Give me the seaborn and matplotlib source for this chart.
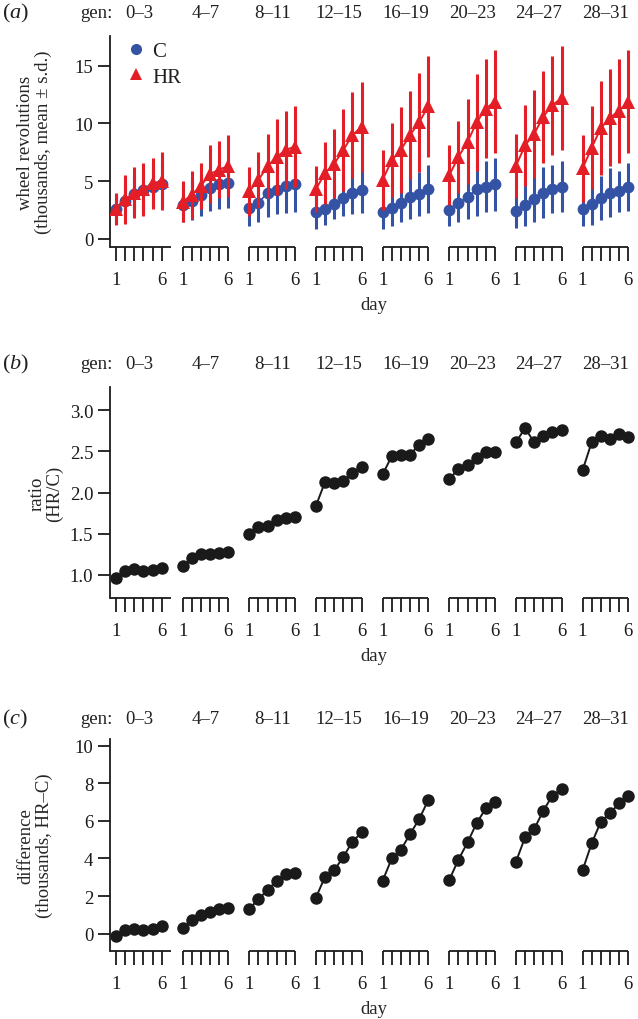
import numpy as np
import pandas as pd
import seaborn as sns
import matplotlib.pyplot as plt
from matplotlib.lines import Line2D
from matplotlib.transforms import blended_transform_factory

# generation blocks and days
gen_labels = ["0–3", "4–7", "8–11", "12–15", "16–19", "20–23", "24–27", "28–31"]
days = [1, 2, 3, 4, 5, 6]

# (a) wheel revolutions, thousands (mean and s.d.)
c_mean = [
    [2.6, 3.3, 3.9, 4.2, 4.5, 4.7],
    [2.9, 3.3, 3.8, 4.4, 4.7, 4.8],
    [2.7, 3.1, 4.0, 4.2, 4.6, 4.7],
    [2.3, 2.6, 3.0, 3.5, 4.0, 4.2],
    [2.3, 2.7, 3.1, 3.6, 3.9, 4.3],
    [2.5, 3.1, 3.6, 4.3, 4.5, 4.7],
    [2.4, 2.9, 3.4, 4.0, 4.3, 4.5],
    [2.6, 3.0, 3.5, 4.0, 4.1, 4.5],
]
c_sd = [
    [1.3, 1.4, 1.5, 1.7, 1.8, 1.9],
    [1.5, 1.7, 1.8, 2.0, 2.1, 2.1],
    [1.6, 1.7, 2.1, 2.1, 2.4, 2.4],
    [1.5, 1.4, 1.3, 1.5, 1.9, 2.0],
    [1.5, 1.6, 1.7, 1.9, 1.9, 2.1],
    [1.4, 1.7, 1.9, 2.3, 2.2, 2.3],
    [1.5, 1.8, 2.0, 2.2, 2.1, 2.2],
    [1.5, 1.8, 1.9, 2.1, 1.8, 2.1],
]
hr_mean = [
    [2.6, 3.4, 4.0, 4.3, 4.8, 5.0],
    [3.2, 3.8, 4.6, 5.6, 6.0, 6.3],
    [4.1, 5.1, 6.3, 7.1, 7.7, 8.0],
    [4.3, 5.7, 6.5, 7.7, 9.0, 9.7],
    [5.1, 6.8, 7.7, 9.0, 10.1, 11.5],
    [5.5, 7.1, 8.4, 10.1, 11.3, 11.9],
    [6.3, 8.1, 9.1, 10.6, 11.6, 12.2],
    [6.1, 7.9, 9.6, 10.5, 11.1, 11.9],
]
hr_sd = [
    [1.4, 2.1, 2.2, 2.3, 2.2, 2.5],
    [1.8, 2.1, 2.0, 2.5, 2.5, 2.7],
    [2.1, 2.4, 2.8, 3.3, 3.4, 3.5],
    [2.0, 2.7, 3.0, 3.6, 3.7, 3.9],
    [2.6, 3.2, 3.7, 3.8, 4.3, 4.4],
    [2.6, 3.1, 3.7, 4.2, 4.3, 4.5],
    [2.8, 3.5, 3.8, 4.0, 4.3, 4.5],
    [2.9, 3.6, 4.1, 4.2, 4.5, 4.5],
]

# (b) ratio HR/C
ratio = [
    [0.96, 1.05, 1.07, 1.05, 1.06, 1.09],
    [1.11, 1.21, 1.25, 1.25, 1.26, 1.28],
    [1.50, 1.58, 1.59, 1.67, 1.69, 1.70],
    [1.84, 2.13, 2.12, 2.14, 2.24, 2.31],
    [2.22, 2.44, 2.45, 2.46, 2.58, 2.65],
    [2.16, 2.29, 2.33, 2.42, 2.49, 2.49],
    [2.61, 2.78, 2.61, 2.69, 2.73, 2.76],
    [2.27, 2.61, 2.69, 2.65, 2.71, 2.67],
]

# (c) difference HR-C, thousands
diff = [
    [-0.12, 0.18, 0.23, 0.20, 0.23, 0.41],
    [0.32, 0.73, 0.98, 1.17, 1.30, 1.35],
    [1.33, 1.83, 2.33, 2.81, 3.16, 3.25],
    [1.92, 3.04, 3.37, 4.09, 4.90, 5.38],
    [2.81, 4.00, 4.46, 5.29, 6.09, 7.10],
    [2.86, 3.93, 4.85, 5.88, 6.66, 7.02],
    [3.82, 5.12, 5.56, 6.54, 7.34, 7.69],
    [3.37, 4.81, 5.95, 6.41, 6.93, 7.34],
]

GAP = 7.3  # spacing between generation blocks, in day units

rows = []
for g in range(len(gen_labels)):
    for i, d in enumerate(days):
        rows.append({
            "group": g, "day": d, "pos": g * GAP + (d - 1),
            "c_mean": c_mean[g][i], "c_sd": c_sd[g][i],
            "hr_mean": hr_mean[g][i], "hr_sd": hr_sd[g][i],
            "ratio": ratio[g][i], "diff": diff[g][i],
        })
df = pd.DataFrame(rows)

sns.set_theme(style="white")
plt.rcParams["font.family"] = ["Liberation Serif", "DejaVu Serif"]
plt.rcParams["mathtext.fontset"] = "custom"
plt.rcParams["mathtext.rm"] = "Liberation Serif"
plt.rcParams["mathtext.it"] = "Liberation Serif:italic"
plt.rcParams["text.color"] = "#231f20"

RED = "#e41e26"
BLUE = "#3553a4"
BLACK = "#1a1a1a"
FS = 13.5

W, H = 638, 1020
fig = plt.figure(figsize=(W / 100, H / 100), dpi=100)

# axes boxes in pixels: (top, bottom)
boxes = [(37, 248), (388, 599), (740, 952)]
left_px, right_px = 110, 638
axs = []
for top, bot in boxes:
    axs.append(fig.add_axes([left_px / W, 1 - bot / H, (right_px - left_px) / W, (bot - top) / H]))

xmin = -0.66
xmax = xmin + (right_px - left_px) / 9.13


def style_axis(ax, ylim, yticks, yticklabels, ylabel, ylabel_x, letter, title_y):
    ax.set_xlim(xmin, xmax)
    ax.set_ylim(*ylim)
    ax.set_facecolor("none")
    for s in ["top", "right", "bottom"]:
        ax.spines[s].set_visible(False)
    ax.spines["left"].set_linewidth(1.3)
    ax.spines["left"].set_color(BLACK)
    ax.set_yticks(yticks)
    ax.set_yticklabels(yticklabels, fontsize=FS)
    ax.tick_params(axis="y", direction="out", length=9, width=1.3, pad=3, colors=BLACK, left=True)
    # x ticks: every day, labels only on day 1 and 6
    ax.set_xticks(df["pos"])
    ax.set_xticklabels(["1" if d == 1 else ("6" if d == 6 else "") for d in df["day"]], fontsize=FS)
    ax.tick_params(axis="x", direction="out", length=10, width=1.3, pad=7, colors=BLACK, bottom=True)
    ax.set_xlabel("day", fontsize=FS, labelpad=6)
    ax.set_ylabel(ylabel, fontsize=FS, linespacing=1.05)
    ax.yaxis.label.set_va("center")
    ax.yaxis.set_label_coords(ylabel_x, 0.5)
    ax.grid(False)

    tr = blended_transform_factory(ax.transData, ax.transAxes)
    for g in range(len(gen_labels)):
        x0 = g * GAP
        start = xmin if g == 0 else x0
        end = x0 + 6.0 if g == 0 else x0 + 5
        ax.plot([start, end], [0, 0], color=BLACK, lw=1.3, transform=tr, clip_on=False,
                solid_capstyle="butt")
        ax.annotate(gen_labels[g], xy=(x0 + 2.5, 1), xycoords=tr, xytext=(0, title_y),
                    textcoords="offset points", ha="center", va="center", fontsize=FS)
    ax.annotate("gen:", xy=(0, 1), xycoords="axes fraction", xytext=(2, title_y),
                textcoords="offset points", ha="right", va="center", fontsize=FS)
    ax.annotate(r"$(\mathit{" + letter + r"})$", xy=(0, 1), xycoords="axes fraction",
                xytext=(-78, title_y), textcoords="offset points", ha="left", va="center",
                fontsize=16)


# (a)
ax = axs[0]
ax.vlines(df["pos"], df["c_mean"] - df["c_sd"], df["c_mean"] + df["c_sd"], color=BLUE, lw=2.2, zorder=1)
sns.lineplot(data=df, x="pos", y="c_mean", units="group", estimator=None, color=BLUE, lw=1.2,
             marker="o", markersize=8.5, markeredgewidth=0, ax=ax, legend=False, zorder=2)
ax.vlines(df["pos"], df["hr_mean"] - df["hr_sd"], df["hr_mean"] + df["hr_sd"], color=RED, lw=2.2, zorder=3)
sns.lineplot(data=df, x="pos", y="hr_mean", units="group", estimator=None, color=RED, lw=1.4,
             marker="^", markersize=9.5, markeredgewidth=0, ax=ax, legend=False, zorder=4)
style_axis(ax, (-0.73, 17.6), [0, 5, 10, 15], ["0", "5", "10", "15"],
           "wheel revolutions\n(thousands, mean ± s.d.)", -0.143, "a", 17)
handles = [Line2D([], [], marker="o", color=BLUE, linestyle="none", markersize=8, markeredgewidth=0),
           Line2D([], [], marker="^", color=RED, linestyle="none", markersize=9, markeredgewidth=0)]
ax.legend(handles, ["C", "HR"], loc="upper left", bbox_to_anchor=(0.033, 0.975), frameon=False,
          fontsize=15, handlelength=0.8, handletextpad=0.4, labelspacing=0.3, borderaxespad=0,
          borderpad=0)

# (b)
ax = axs[1]
sns.lineplot(data=df, x="pos", y="ratio", units="group", estimator=None, color=BLACK, lw=1.4,
             marker="o", markersize=9, markeredgewidth=0, ax=ax, legend=False)
style_axis(ax, (0.72, 3.28), [1.0, 1.5, 2.0, 2.5, 3.0], ["1.0", "1.5", "2.0", "2.5", "3.0"],
           "ratio\n(HR/C)", -0.121, "b", 17)

# (c)
ax = axs[2]
sns.lineplot(data=df, x="pos", y="diff", units="group", estimator=None, color=BLACK, lw=1.4,
             marker="o", markersize=9, markeredgewidth=0, ax=ax, legend=False)
style_axis(ax, (-0.92, 10.35), [0, 2, 4, 6, 8, 10], ["0", "2", "4", "6", "8", "10"],
           "difference\n(thousands, HR–C)", -0.142, "c", 15)

fig.savefig("out.png", dpi=100)
